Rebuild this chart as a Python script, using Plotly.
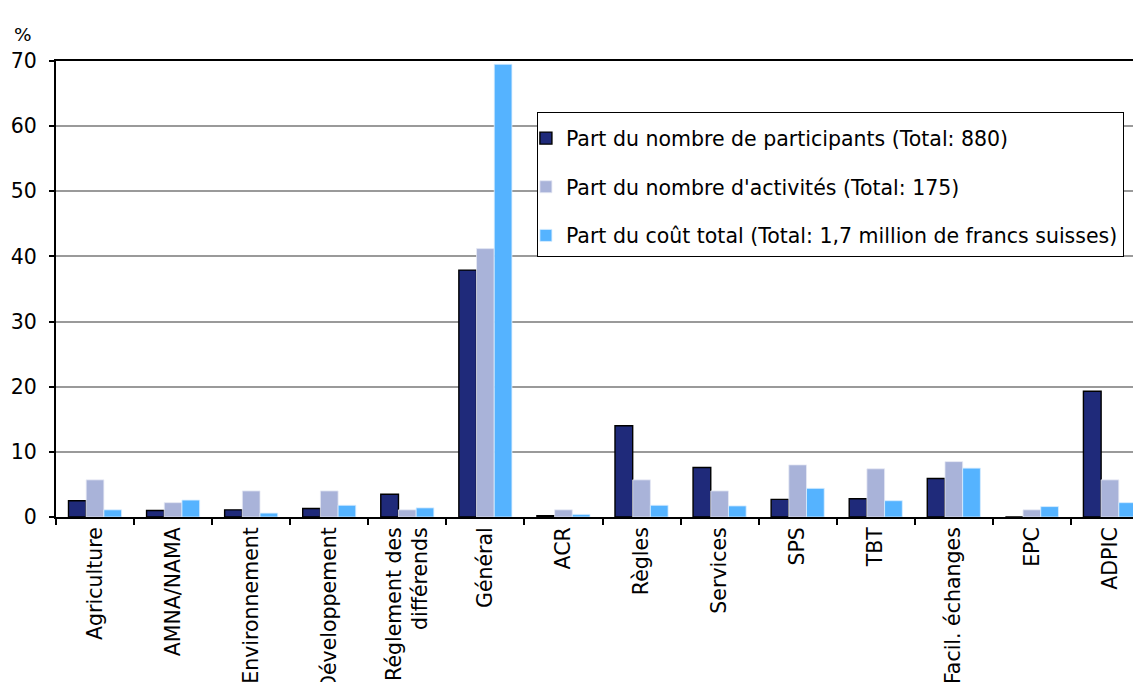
import plotly.graph_objects as go

categories = ["Agriculture", "AMNA/NAMA", "Environnement", "Développement",
              "Réglement des<br>différends", "Général", "ACR", "Règles", "Services",
              "SPS", "TBT", "Facil. échanges", "EPC", "ADPIC"]
participants = [2.5, 1.0, 1.1, 1.3, 3.5, 37.9, 0.2, 14.0, 7.6, 2.7, 2.8, 5.9, 0.0, 19.3]
activites = [5.7, 2.2, 4.0, 4.0, 1.1, 41.2, 1.1, 5.7, 4.0, 8.0, 7.4, 8.5, 1.1, 5.7]
cout = [1.1, 2.6, 0.6, 1.8, 1.4, 69.5, 0.4, 1.8, 1.7, 4.4, 2.5, 7.5, 1.6, 2.2]
names = ["Part du nombre de participants (Total: 880)",
         "Part du nombre d'activités (Total: 175)",
         "Part du coût total (Total: 1,7 million de francs suisses)"]
y_ticks = [0, 10, 20, 30, 40, 50, 60, 70]

FONT = "DejaVu Sans"
FS = 20.5
fig = go.Figure()
fig.add_trace(go.Bar(x=categories, y=participants, name=names[0], legendgroup="a",
                     marker=dict(color="#1F2A7A", line=dict(color="black", width=1.4))))
fig.add_trace(go.Bar(x=categories, y=activites, name=names[1], legendgroup="b",
                     marker=dict(color="#A9B3D9", line=dict(color="#E6E9F4", width=0.8))))
fig.add_trace(go.Bar(x=categories, y=cout, name=names[2], legendgroup="c",
                     marker=dict(color="#55B3FF", line=dict(color="#D9EEFF", width=0.8))))

fig.update_layout(
    width=1141, height=682,
    margin=dict(l=48, r=0, t=53, b=173),
    paper_bgcolor="white", plot_bgcolor="white",
    font=dict(family=FONT, size=FS, color="black"),
    barmode="group", bargap=0.32, bargroupgap=0,
    showlegend=True,
    legend=dict(x=0.44, y=0.888, xanchor="left", yanchor="top",
                bgcolor="white", bordercolor="black", borderwidth=1,
                font=dict(family=FONT, size=FS, color="black"),
                title=dict(text=" ", font=dict(size=4)),
                traceorder="grouped", tracegroupgap=19, itemwidth=30,
                indentation=-12),
    xaxis=dict(type="category", tickangle=-90, showline=True, linecolor="black",
               linewidth=2, mirror=True, ticks="outside", tickson="boundaries",
               ticklen=6, tickwidth=1.5, tickcolor="black", showgrid=False,
               tickfont=dict(family=FONT, size=FS, color="black")),
    yaxis=dict(range=[0, 70], tickvals=y_ticks, showline=True, linecolor="black",
               linewidth=2, ticks="outside", ticklen=5, tickwidth=1.5, tickcolor="black",
               showgrid=True, gridcolor="#9A9A9A", gridwidth=1.6, zeroline=False,
               ticklabelstandoff=8,
               tickfont=dict(family=FONT, size=FS, color="black")),
    annotations=[dict(text="%", xref="paper", yref="paper", x=-0.040, y=1.03,
                      xanchor="left", yanchor="bottom", showarrow=False,
                      font=dict(family=FONT, size=FS - 2, color="black"))],
)

fig.write_html("out.html")
